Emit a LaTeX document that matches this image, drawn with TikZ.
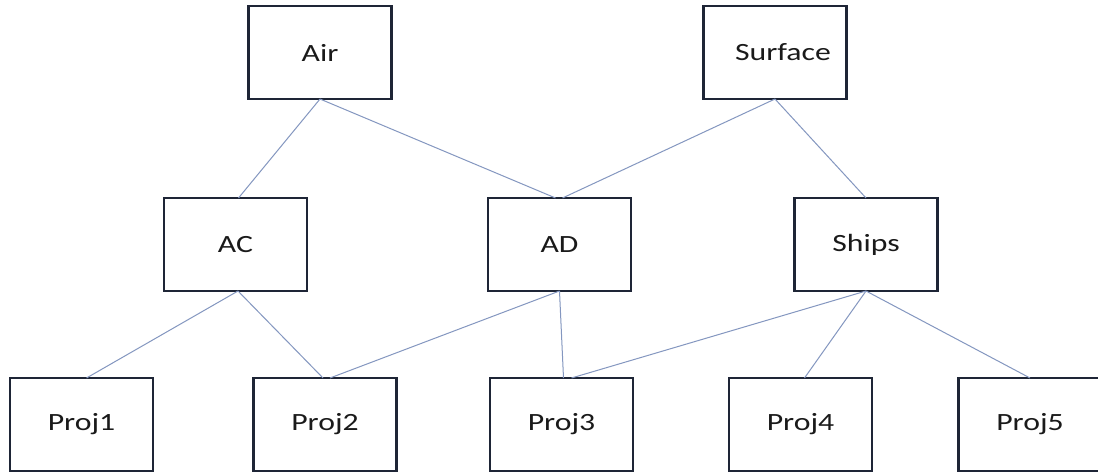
\documentclass[tikz,border=0pt]{standalone}
\usepackage{fontspec}
\newfontfamily\boxfont[FakeStretch=1.28]{Carlito}
\definecolor{boxline}{HTML}{1E2536}
\definecolor{conn}{HTML}{8497C0}
\definecolor{txt}{HTML}{1A1A1A}
\begin{document}
\begin{tikzpicture}[x=1pt,y=-1pt,
  unit/.style={draw=boxline,line width=2.2pt,rectangle,minimum width=143pt,minimum height=93pt,inner sep=0pt,outer sep=0pt,font=\boxfont\fontsize{24.8}{28}\selectfont,text=txt},
  link/.style={draw=conn,line width=1pt}]
\useasboundingbox (0,0) rectangle (1098,473);
\fill[white] (0,0) rectangle (1098,473);
\clip (0,0) rectangle (1098,473);
\node[unit] (Air) at (320,52.5) {Air};
\node[unit] (Surface) at (775,52.5) {\hspace*{16pt}Surface};
\node[unit] (AC) at (235.5,244.5) {AC};
\node[unit] (AD) at (559.5,244.5) {AD};
\node[unit] (Ships) at (866,244.5) {Ships};
\node[unit] (Proj1) at (81.5,424.5) {Proj1};
\node[unit] (Proj2) at (325,424.5) {Proj2};
\node[unit] (Proj3) at (561.5,424.5) {Proj3};
\node[unit] (Proj4) at (800.5,424.5) {Proj4};
\node[unit] (Proj5) at (1030,424.5) {Proj5};
\draw[link] (Air.south) -- ([xshift=3pt]AC.north);
\draw[link] (Air.south) -- ([xshift=-4pt]AD.north);
\draw[link] (Surface.south) -- ([xshift=3pt]AD.north);
\draw[link] (Surface.south) -- (Ships.north);
\draw[link] ([xshift=2.5pt]AC.south) -- ([xshift=5pt]Proj1.north);
\draw[link] ([xshift=2.5pt]AC.south) -- ([xshift=-2pt]Proj2.north);
\draw[link] (AD.south) -- ([xshift=5pt]Proj2.north);
\draw[link] (AD.south) -- ([xshift=2pt]Proj3.north);
\draw[link] (Ships.south) -- ([xshift=10pt]Proj3.north);
\draw[link] (Ships.south) -- ([xshift=4pt]Proj4.north);
\draw[link] (Ships.south) -- (Proj5.north);
\end{tikzpicture}
\end{document}
